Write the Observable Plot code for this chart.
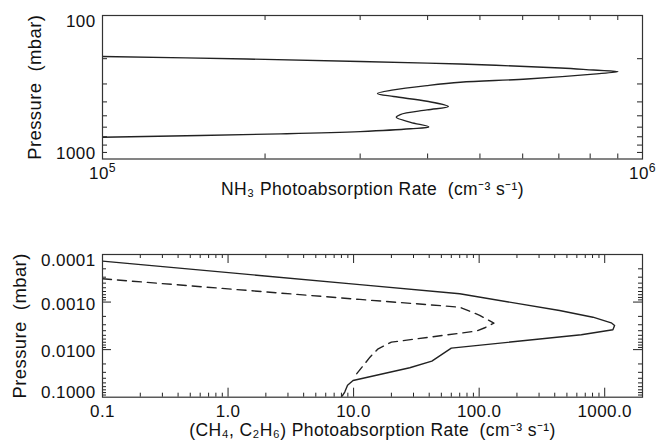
<!DOCTYPE html>
<html><head><meta charset="utf-8">
<script src="https://cdn.jsdelivr.net/npm/d3@7"></script>
<script src="https://cdn.jsdelivr.net/npm/@observablehq/plot@0.6"></script>
<style>
body{margin:0;background:#fff;}
svg{display:block;}
svg text{letter-spacing:0.4px;}
</style>
</head><body><div id="chart"></div>
<script>
// ---- Top panel: NH3 ----
const nh3Rate =     [1.00e5,1.85e5,3.00e5,4.60e5,7.05e5,8.11e5,9.01e5,8.11e5,6.11e5,4.60e5,3.99e5,3.46e5,3.23e5,3.46e5,3.99e5,4.37e5,3.99e5,3.56e5,3.50e5,3.72e5,4.02e5,3.72e5,3.00e5,2.14e5,1.00e5];
const nh3Pressure = [193,201,209,218,232,240,246,256,277,292,308,330,349,367,396,431,455,490,512,555,597,616,644,668,705];
const topXTicks = [1e5, 1e6];
const topXTickLabels = ["10\u2075", "10\u2076"];
const topYTicks = [100, 1000];
const topYTickLabels = ["100", "1000"];
const topXTitle = "NH\u2083 Photoabsorption Rate  (cm\u207B\u00B3 s\u207B\u00B9)";
const yTitle = "Pressure  (mbar)";

// ---- Bottom panel: CH4 (solid), C2H6 (dashed) ----
const ch4Rate =     [0.1, 11.2, 70, 437, 806, 1127, 1199, 1162, 651, 60, 42, 28, 9.9, 8.95, 8.5, 8.0];
const ch4Pressure = [1.38e-4, 4.3e-4, 6.7e-4, 1.5e-3, 2.08e-3, 2.73e-3, 3.1e-3, 3.83e-3, 4.87e-3, 9.3e-3, 1.74e-2, 2.4e-2, 4.45e-2, 5.6e-2, 7.8e-2, 1.0e-1];
const c2h6Rate =     [0.1, 11.2, 70, 101, 131, 111, 95, 20.0, 15.7, 13.5, 10.6];
const c2h6Pressure = [3.24e-4, 8.8e-4, 1.28e-3, 1.9e-3, 2.77e-3, 3.47e-3, 4.07e-3, 6.96e-3, 9.6e-3, 1.44e-2, 3.2e-2];
const botXTicks = [0.1, 1, 10, 100, 1000];
const botXTickLabels = ["0.1", "1.0", "10.0", "100.0", "1000.0"];
const botYTicks = [1e-4, 1e-3, 1e-2, 1e-1];
const botYTickLabels = ["0.0001", "0.0010", "0.0100", "0.1000"];
const botXTitle = "(CH\u2084, C\u2082H\u2086) Photoabsorption Rate  (cm\u207B\u00B3 s\u207B\u00B9)";

const FONT = "'Liberation Sans', Arial, sans-serif";
const INK = "#222";
const TICKFS = 17, TITLEFS = 17.5;

function minorsBetween(lo, hi) {
  const out = [];
  for (let e = Math.floor(Math.log10(lo)); e <= Math.ceil(Math.log10(hi)); e++) {
    for (let m = 2; m <= 9; m++) { const v = m * Math.pow(10, e); if (v > lo && v < hi) out.push(v); }
  }
  return out;
}
function majorsBetween(lo, hi) {
  const out = [];
  for (let e = Math.ceil(Math.log10(lo)); e <= Math.floor(Math.log10(hi)); e++) {
    const v = Math.pow(10, e); if (v > lo * 1.0001 && v < hi / 1.0001) out.push(v);
  }
  return out;
}
function inwardTicks(xdom, ydom, W, H, minorLen, majorLen) {
  const s = {stroke: INK, strokeWidth: 1};
  const xm = minorsBetween(...xdom), xM = majorsBetween(...xdom);
  const ym = minorsBetween(...ydom), yM = majorsBetween(...ydom);
  return [
    Plot.tickX(xm, {x: d => d, insetTop: H - minorLen, ...s}),
    Plot.tickX(xm, {x: d => d, insetBottom: H - minorLen, ...s}),
    Plot.tickX(xM, {x: d => d, insetTop: H - majorLen, ...s}),
    Plot.tickX(xM, {x: d => d, insetBottom: H - majorLen, ...s}),
    Plot.tickY(ym, {y: d => d, insetRight: W - minorLen, ...s}),
    Plot.tickY(ym, {y: d => d, insetLeft: W - minorLen, ...s}),
    Plot.tickY(yM, {y: d => d, insetRight: W - majorLen, ...s}),
    Plot.tickY(yM, {y: d => d, insetLeft: W - majorLen, ...s})
  ];
}
function labels(xTicks, xLabels, yTicks, yLabels, xTitle, xLabelDy, xTitleDy, yTitleDx) {
  const t = {fill: "#111", fontSize: TICKFS};
  const n = yTicks.length;
  return [
    Plot.text(xTicks, {x: d => d, text: (d, i) => xLabels[i], frameAnchor: "bottom", dy: xLabelDy, ...t}),
    Plot.text([yTicks[0]], {y: d => d, text: () => yLabels[0], frameAnchor: "left", textAnchor: "end", dx: -7, dy: 6, ...t}),
    Plot.text(yTicks.slice(1, n - 1), {y: d => d, text: (d, i) => yLabels[i + 1], frameAnchor: "left", textAnchor: "end", dx: -7, dy: 2, ...t}),
    Plot.text([yTicks[n - 1]], {y: d => d, text: () => yLabels[n - 1], frameAnchor: "left", textAnchor: "end", dx: -7, dy: -5, ...t}),
    Plot.text([xTitle], {text: d => d, frameAnchor: "bottom", dy: xTitleDy, fill: "#111", fontSize: TITLEFS}),
    Plot.text([yTitle], {text: d => d, frameAnchor: "left", textAnchor: "middle", dx: yTitleDx, rotate: -90, fill: "#111", fontSize: TITLEFS + 1})
  ];
}
// turn "10⁵" style labels into "10" + raised tspan
const SUP = {"\u2070":"0","\u00B9":"1","\u00B2":"2","\u00B3":"3","\u2074":"4","\u2075":"5","\u2076":"6","\u2077":"7","\u2078":"8","\u2079":"9"};
function raisePowers(svg) {
  d3.select(svg).selectAll("text").each(function() {
    const s = this.textContent;
    const m = /^10([\u2070\u00B9\u00B2\u00B3\u2074-\u2079]+)$/.exec(s);
    if (!m) return;
    const exp = [...m[1]].map(c => SUP[c]).join("");
    const el = d3.select(this);
    el.text("10");
    el.append("tspan").attr("dy", "-0.5em").attr("font-size", "0.72em").text(exp);
  });
}

const W = 656, HT = 224;
// top
const tm = {top: 15, bottom: 65.5, left: 102, right: 14};
const topXDom = [1e5, 1e6], topYDom = [100, 1000];
const topPlot = Plot.plot({
  width: W, height: HT,
  marginTop: tm.top, marginBottom: tm.bottom, marginLeft: tm.left, marginRight: tm.right,
  style: {fontFamily: FONT, background: "#fff"},
  x: {type: "log", domain: topXDom, axis: null},
  y: {type: "log", domain: topYDom, reverse: true, axis: null},
  marks: [
    ...inwardTicks(topXDom, topYDom, W - tm.left - tm.right, HT - tm.top - tm.bottom, 5, 9),
    Plot.line(nh3Rate.map((r, i) => ({r, p: nh3Pressure[i]})), {x: "r", y: "p", curve: "catmull-rom", stroke: INK, strokeWidth: 1.4, clip: true}),
    Plot.frame({stroke: "#333", strokeWidth: 1.2}),
    ...labels(topXTicks, topXTickLabels, topYTicks, topYTickLabels, topXTitle, 19.5, 36, -67)
  ]
});
raisePowers(topPlot);
// bottom
const bm = {top: 30, bottom: 51.3, left: 102, right: 14};
const botXDom = [0.1, 2000], botYDom = [1e-4, 1e-1];
const botPlot = Plot.plot({
  width: W, height: HT,
  marginTop: bm.top, marginBottom: bm.bottom, marginLeft: bm.left, marginRight: bm.right,
  style: {fontFamily: FONT, background: "#fff"},
  x: {type: "log", domain: botXDom, axis: null},
  y: {type: "log", domain: botYDom, reverse: true, axis: null},
  marks: [
    ...inwardTicks(botXDom, botYDom, W - bm.left - bm.right, HT - bm.top - bm.bottom, 4, 9),
    Plot.line(ch4Rate.map((r, i) => ({r, p: ch4Pressure[i]})), {x: "r", y: "p", stroke: INK, strokeWidth: 1.4, clip: true}),
    Plot.line(c2h6Rate.map((r, i) => ({r, p: c2h6Pressure[i]})), {x: "r", y: "p", stroke: INK, strokeWidth: 1.4, strokeDasharray: "9,6", clip: true}),
    Plot.frame({stroke: "#333", strokeWidth: 1.2}),
    ...labels(botXTicks, botXTickLabels, botYTicks, botYTickLabels, botXTitle, 19.5, 39, -82)
  ]
});
const root = document.getElementById("chart");
root.appendChild(topPlot);
root.appendChild(botPlot);
</script>
</body></html>
